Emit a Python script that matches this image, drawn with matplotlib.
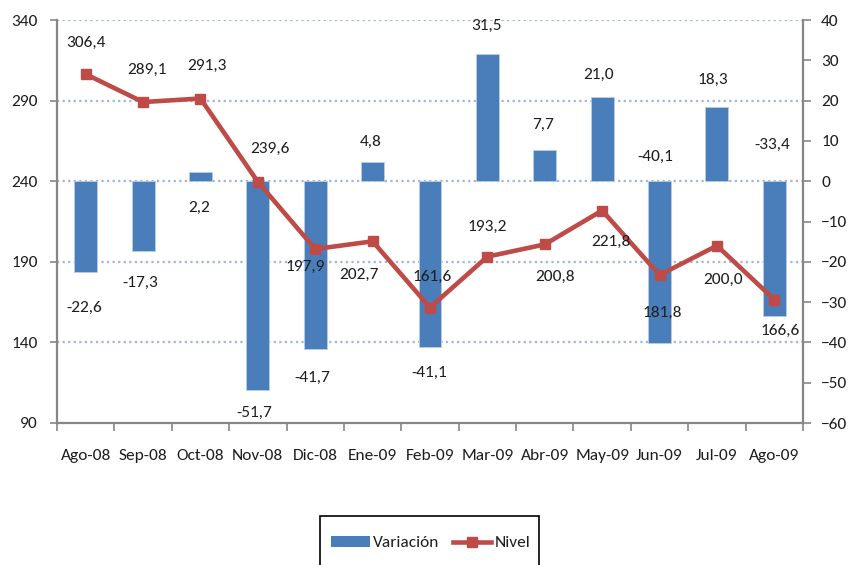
import matplotlib
matplotlib.use("Agg")
import matplotlib.pyplot as plt
from matplotlib import font_manager
from matplotlib.patches import Patch, Rectangle
from matplotlib.lines import Line2D

meses = ["Ago-08", "Sep-08", "Oct-08", "Nov-08", "Dic-08", "Ene-09", "Feb-09",
         "Mar-09", "Abr-09", "May-09", "Jun-09", "Jul-09", "Ago-09"]
variacion = [-22.6, -17.3, 2.2, -51.7, -41.7, 4.8, -41.1, 31.5, 7.7, 21.0, -40.1, 18.3, -33.4]
nivel = [306.4, 289.1, 291.3, 239.6, 197.9, 202.7, 161.6, 193.2, 200.8, 221.8, 181.8, 200.0, 166.6]

# label offsets in pixels (dx, dy up)
off_nivel = [(0, 31), (4, 32), (6, 33), (12, 33), (-10, -18), (-14, -34), (2, 31),
             (0, 30), (10, -33), (9, -31), (3, -38), (6, -34), (6, -31)]
off_var = [(-1, -36), (-3, -32), (-1, -36), (-4, -23), (-3, -29), (-2, 20), (-1, -26),
           (-1, 28), (-2, 25), (-4, 22), (-4, 186), (-4, 28), (-2, 171)]

names = {f.name for f in font_manager.fontManager.ttflist}
fam = "DejaVu Sans"
for c in ["Carlito", "Liberation Sans Narrow", "Open Sans Condensed", "Roboto Condensed",
          "DejaVu Sans Condensed", "Liberation Sans"]:
    if c in names:
        fam = c
        break
plt.rcParams["font.family"] = [fam, "DejaVu Sans"]
fs = 12.5
txt = "#1e1e1e"
gris = "#868686"
azul = "#4A7EBB"
rojo = "#BE4B48"

fig = plt.figure(figsize=(8.51, 5.65), dpi=100)
ax = fig.add_axes([57/851, 1-423/565, (803-57)/851, (423-20)/565])
ax2 = ax.twinx()
ax.set_zorder(ax2.get_zorder() + 1)
ax.patch.set_visible(False)

x = list(range(len(meses)))

# grid lines behind the bars
for g in [40, 20, 0, -20, -40]:
    ax2.axhline(g, color="#9DB5E0", lw=1.6, ls=(0, (1, 1.5)), zorder=0)

ax2.bar(x, variacion, width=0.4, color=azul, edgecolor="#B9CDE5", linewidth=0.6, zorder=2)
ax.plot(x, nivel, color=rojo, lw=3.3, marker="s", markersize=7.5, zorder=3)

ax.set_xlim(-0.5, 12.5)
ax.set_ylim(90, 340)
ax2.set_ylim(-60, 40)
ax.set_yticks(range(90, 341, 50))
ax2.set_yticks(range(-60, 41, 10))

ax.set_xticks(x)
ax.set_xticklabels(meses)
ax.set_xticks([i - 0.5 for i in range(14)], minor=True)
ax.tick_params(axis="x", which="major", length=0, pad=19, labelsize=fs, labelcolor=txt)
ax.tick_params(axis="x", which="minor", length=6, width=1.2, color=gris, direction="out")
ax.tick_params(axis="y", length=5, width=1.2, color=gris, pad=9, labelsize=fs, labelcolor=txt)
ax2.tick_params(axis="y", length=6, width=1.2, color=gris, pad=7, labelsize=fs, labelcolor=txt)

for a in (ax, ax2):
    a.spines["top"].set_visible(False)
    for s in ("left", "right", "bottom"):
        a.spines[s].set_color(gris)
        a.spines[s].set_linewidth(1.6)
ax.spines["right"].set_visible(False)
ax2.spines["left"].set_visible(False)
ax2.spines["bottom"].set_visible(False)

def fmt(v):
    return ("%.1f" % v).replace(".", ",")

for i, v in enumerate(nivel):
    ax.annotate(fmt(v), (i, v), xytext=off_nivel[i], textcoords="offset pixels",
                ha="center", va="center", fontsize=fs, color=txt, zorder=5)
for i, v in enumerate(variacion):
    ax2.annotate(fmt(v), (i, v), xytext=off_var[i], textcoords="offset pixels",
                 ha="center", va="center", fontsize=fs, color=txt, zorder=5)

# legend: content centred, frame drawn separately (runs off the bottom edge)
handles = [Patch(facecolor=azul, edgecolor="none"),
           Line2D([], [], color=rojo, lw=3.3, marker="s", markersize=7.5)]
fig.legend(handles, ["Variación", "Nivel"], loc="center",
           bbox_to_anchor=(431/851, 1-543/565), borderaxespad=0, ncol=2,
           frameon=False, fontsize=fs, borderpad=0, handlelength=2.2,
           handletextpad=0.2, columnspacing=0.8, handleheight=0.6, labelcolor=txt)
fig.patches.append(Rectangle((320/851, -0.05), (539-320)/851, 0.05+1-516/565,
                             transform=fig.transFigure, fill=False,
                             edgecolor="black", linewidth=1.2))

fig.savefig("out.png", dpi=100)
